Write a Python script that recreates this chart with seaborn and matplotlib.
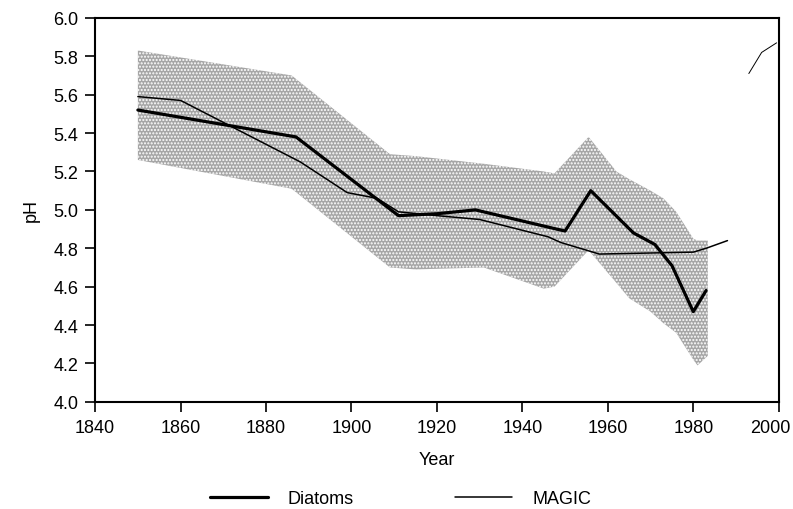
import seaborn as sns
import matplotlib.pyplot as plt
import pandas as pd
from matplotlib.transforms import ScaledTranslation

sns.set_theme(style="ticks")
plt.rcParams['font.family'] = ['Liberation Sans', 'DejaVu Sans']
plt.rcParams['hatch.color'] = '#5a5a5a'
plt.rcParams['text.color'] = 'black'
plt.rcParams['axes.labelcolor'] = 'black'

# Diatom-inferred pH
diatom_year = [1850, 1887, 1911, 1920, 1929, 1948, 1950, 1956, 1966, 1971, 1975, 1980, 1983]
diatom_ph = [5.52, 5.38, 4.97, 4.98, 5.00, 4.90, 4.89, 5.10, 4.88, 4.82, 4.71, 4.47, 4.58]

# MAGIC model hindcast
magic_year = [1850, 1860, 1888, 1899, 1906, 1911, 1920, 1930, 1946, 1949, 1955, 1958, 1980, 1983, 1988]
magic_ph = [5.59, 5.57, 5.25, 5.09, 5.06, 4.99, 4.97, 4.95, 4.86, 4.83, 4.79, 4.77, 4.78, 4.80, 4.84]

# stray fragment at the top right
frag_year = [1993, 1996, 1999.5]
frag_ph = [5.71, 5.82, 5.87]

# uncertainty band of the diatom reconstruction
band_year = [1850, 1886, 1909, 1915, 1931, 1945, 1947.5, 1955.5, 1962, 1965, 1970, 1973, 1976, 1980, 1981, 1983.4]
band_hi = [5.83, 5.70, 5.29, 5.28, 5.24, 5.20, 5.19, 5.38, 5.20, 5.16, 5.10, 5.06, 4.99, 4.85, 4.84, 4.84]
band_lo = [5.26, 5.11, 4.70, 4.69, 4.70, 4.59, 4.60, 4.79, 4.62, 4.54, 4.47, 4.41, 4.36, 4.22, 4.19, 4.24]

diatoms = pd.DataFrame({'Year': diatom_year, 'pH': diatom_ph})
magic = pd.DataFrame({'Year': magic_year, 'pH': magic_ph})

fig = plt.figure(figsize=(7.93, 5.10), dpi=100)
ax = fig.add_axes([0.12, 0.21, 0.862, 0.753])

ax.fill_between(band_year, band_lo, band_hi, facecolor='#a6a6a6', edgecolor='none',
                hatch='.....', zorder=1)
sns.lineplot(data=diatoms, x='Year', y='pH', ax=ax, color='black', linewidth=2.3,
             label='Diatoms', legend=False, zorder=3)
sns.lineplot(data=magic, x='Year', y='pH', ax=ax, color='black', linewidth=1.1,
             label='MAGIC', legend=False, zorder=3)
ax.plot(frag_year, frag_ph, color='black', linewidth=0.7)

ax.set_xlim(1840, 2000)
ax.set_ylim(4.0, 6.0)
ax.set_xticks(range(1840, 2001, 20))
ax.set_yticks([4.0 + 0.2 * i for i in range(11)])
ax.set_yticklabels([f'{4.0 + 0.2 * i:.1f}' for i in range(11)])
ax.tick_params(direction='out', length=7, width=1.2, pad=5, labelsize=13,
               colors='black', labelcolor='black')
for s in ax.spines.values():
    s.set_linewidth(1.5)
    s.set_color('black')
ax.set_xlabel('Year', fontsize=13, labelpad=11)
ax.set_ylabel('pH', fontsize=13, labelpad=10)

# nudge the last x label so it stays inside the picture
last = ax.xaxis.get_major_ticks()[-1].label1
last.set_transform(last.get_transform() + ScaledTranslation(-6 / 72, 0, fig.dpi_scale_trans))

handles, labels = ax.get_legend_handles_labels()
fig.legend(handles, labels, loc='center', bbox_to_anchor=(0.505, 0.02), ncol=2,
           frameon=False, fontsize=13, handlelength=3.2, handletextpad=1.1,
           columnspacing=5.6)

fig.savefig('out.png', dpi=100)
